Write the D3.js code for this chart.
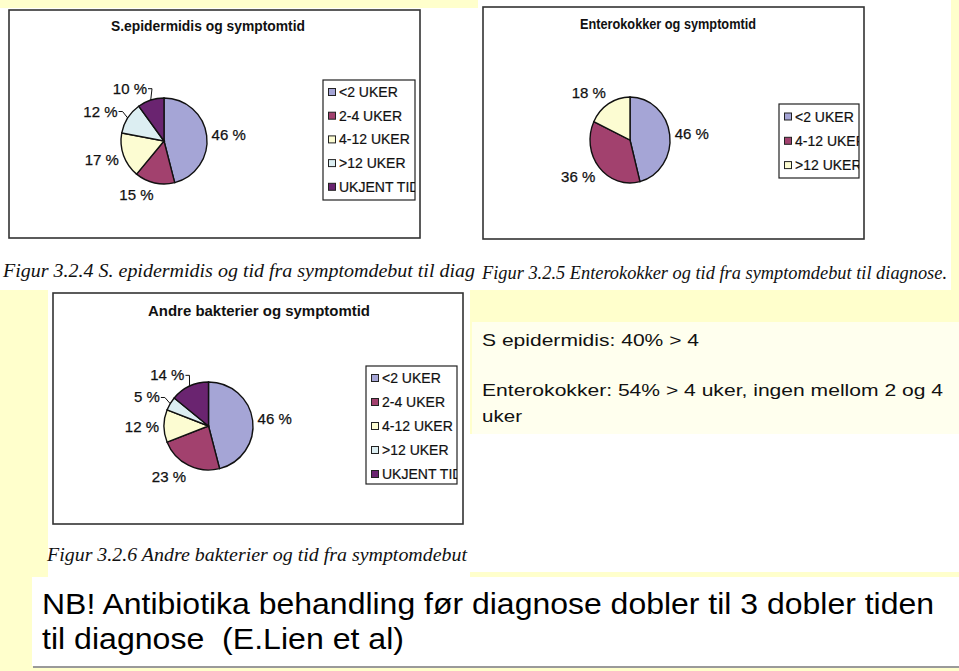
<!DOCTYPE html>
<html><head><meta charset="utf-8">
<script src="https://cdn.jsdelivr.net/npm/d3@7"></script>
<style>
html,body{margin:0;padding:0;background:#FFFFCC;}
svg{display:block;}
text{white-space:pre;}
</style></head>
<body>
<script>
// ---------- DATA ----------
const categories5 = ["<2 UKER", "2-4 UKER", "4-12 UKER", ">12 UKER", "UKJENT TID"];
const categories3 = ["<2 UKER", "4-12 UKER", ">12 UKER"];
const sepiValues   = [46, 15, 17, 12, 10];
const enteroValues = [46, 36, 18];
const andreValues  = [46, 23, 12, 5, 14];
const colors5 = ["#A5A5D6", "#A2416E", "#FCFCD2", "#DCEEF2", "#6A2470"];
const colors3 = ["#A5A5D6", "#A2416E", "#FCFCD2"];
const chartTitles = ["S.epidermidis og symptomtid", "Enterokokker og symptomtid", "Andre bakterier og symptomtid"];
const captions = [
  "Figur 3.2.4 S. epidermidis og tid fra symptomdebut til diag",
  "Figur 3.2.5 Enterokokker og tid fra symptomdebut til diagnose.",
  "Figur 3.2.6 Andre bakterier og tid fra symptomdebut"
];
const noteLines = ["S epidermidis: 40% > 4", "Enterokokker: 54% > 4 uker, ingen mellom 2 og 4", "uker"];
const bottomLines = ["NB! Antibiotika behandling før diagnose dobler til 3 dobler tiden", "til diagnose  (E.Lien et al)"];

// ---------- LAYOUT ----------
const W = 959, H = 671;
const SANS = "'Liberation Sans', Arial, sans-serif";
const SERIF = "'Liberation Serif', 'Times New Roman', serif";
const svg = d3.select("body").append("svg").attr("width", W).attr("height", H);
const defs = svg.append("defs");
svg.append("rect").attr("width", W).attr("height", H).attr("fill", "#FFFFCC");

const charts = [
  { panel:[0,8,478,282], box:[9,10,411,228], title:chartTitles[0], titleX:208, titleY:31, titleW:194,
    cx:164, cy:141, rx:43, ry:43, values:sepiValues, cats:categories5, colors:colors5,
    legend:[323,80,92,120], legendY0:92, legendStep:23.7,
    caption:captions[0], capX:3, capY:277, capW:472 },
  { panel:[478,0,473,290], box:[483,7,381,232], title:chartTitles[1], titleX:668, titleY:29, titleW:176,
    cx:630, cy:140, rx:40, ry:43, values:enteroValues, cats:categories3, colors:colors3,
    legend:[779,104,80,74], legendY0:116.5, legendStep:24.3,
    caption:captions[1], capX:482, capY:279, capW:465 },
  { panel:[48,290,422,287], box:[53,293,410,231], title:chartTitles[2], titleX:259, titleY:316, titleW:222,
    cx:208.5, cy:426, rx:44.5, ry:44, values:andreValues, cats:categories5, colors:colors5,
    legend:[366,366,91,118], legendY0:378, legendStep:24,
    caption:captions[2], capX:47, capY:561, capW:420 }
];

function drawPanel(c, i) {
  const g = svg.append("g");
  g.append("rect").attr("x", c.panel[0]).attr("y", c.panel[1]).attr("width", c.panel[2]).attr("height", c.panel[3]).attr("fill", "#FFFFFF");
  g.append("rect").attr("x", c.box[0]).attr("y", c.box[1]).attr("width", c.box[2]).attr("height", c.box[3])
    .attr("fill", "#FFFFFF").attr("stroke", "#333").attr("stroke-width", 1.6);
  g.append("text").attr("x", c.titleX).attr("y", c.titleY).attr("text-anchor", "middle")
    .attr("font-family", SANS).attr("font-weight", "bold").attr("font-size", 15.5)
    .attr("textLength", c.titleW).attr("lengthAdjust", "spacingAndGlyphs").attr("fill", "#111").text(c.title);

  // pie
  const total = d3.sum(c.values);
  const pie = d3.pie().sort(null).value(d => d)(c.values);
  const arc = d3.arc().innerRadius(0).outerRadius(c.ry);
  const pg = g.append("g").attr("transform", `translate(${c.cx},${c.cy}) scale(${c.rx / c.ry},1)`);
  pg.selectAll("path").data(pie).join("path").attr("d", arc)
    .attr("fill", (d, j) => c.colors[j]).attr("stroke", "#111").attr("stroke-width", 1.4)
    .attr("vector-effect", "non-scaling-stroke");

  // labels
  pie.forEach((d, j) => {
    const a = (d.startAngle + d.endAngle) / 2;
    const s = Math.sin(a), co = Math.cos(a);
    const frac = c.values[j] / total;
    const deg = a * 180 / Math.PI;
    const t = g.append("text").attr("font-family", SANS).attr("font-size", 15).attr("fill", "#111")
      .attr("stroke", "#111").attr("stroke-width", 0.25).text(c.values[j] + " %");
    if (frac <= 0.14 && deg > 280) {
      const R = 12;
      const ax = c.cx + (c.rx + R) * s, ay = c.cy - (c.ry + R) * co;
      t.attr("x", ax).attr("y", ay + 5).attr("text-anchor", "end");
      const ex = c.cx + c.rx * s, ey = c.cy - c.ry * co;
      g.append("polyline").attr("points", `${ax + 1},${ay} ${ax + 5},${ay} ${ex},${ey}`)
        .attr("fill", "none").attr("stroke", "#111").attr("stroke-width", 1);
    } else {
      const pad = 5, h = 14;
      const px = c.cx + (c.rx + pad) * s, py = c.cy - (c.ry + pad) * co;
      const m = Math.max(Math.abs(s), Math.abs(co));
      const sy = -co / m;
      const my = py + (h / 2) * sy;
      t.attr("x", px).attr("y", my + 5.5).attr("text-anchor", s < 0 ? "end" : "start");
    }
  });

  // legend
  const [lx, ly, lw, lh] = c.legend;
  const clipId = "lc" + i;
  defs.append("clipPath").attr("id", clipId).append("rect").attr("x", lx).attr("y", ly).attr("width", lw).attr("height", lh);
  g.append("rect").attr("x", lx).attr("y", ly).attr("width", lw).attr("height", lh)
    .attr("fill", "#FFFFFF").attr("stroke", "#222").attr("stroke-width", 1.2);
  const lg = g.append("g").attr("clip-path", `url(#${clipId})`);
  const yScale = d3.scaleLinear().domain([0, 1]).range([c.legendY0, c.legendY0 + c.legendStep]);
  c.cats.forEach((name, j) => {
    const yy = yScale(j);
    lg.append("rect").attr("x", lx + 5.5).attr("y", yy - 3.5).attr("width", 7).attr("height", 7)
      .attr("fill", c.colors[j]).attr("stroke", "#222").attr("stroke-width", 1);
    lg.append("text").attr("x", lx + 16).attr("y", yy + 5).attr("font-family", SANS).attr("font-size", 14)
      .attr("fill", "#111").attr("stroke", "#111").attr("stroke-width", 0.2).text(name);
  });

  // caption
  g.append("text").attr("x", c.capX).attr("y", c.capY)
    .attr("font-family", SERIF).attr("font-style", "italic")
    .attr("font-size", 18.5).attr("fill", "#111").text(c.caption)
    .attr("textLength", c.capW).attr("lengthAdjust", "spacingAndGlyphs");
}
charts.forEach(drawPanel);

// area right of chart 3
svg.append("rect").attr("x", 470).attr("y", 434).attr("width", W - 470).attr("height", 138).attr("fill", "#FFFFFF");
// note text box
svg.append("rect").attr("x", 472).attr("y", 322).attr("width", W - 472).attr("height", 112).attr("fill", "#FFFFEE");
const noteY = [346, 396, 422];
const noteW = [217, 461, 40];
noteLines.forEach((line, i) => {
  svg.append("text").attr("x", 482).attr("y", noteY[i])
    .attr("font-family", SANS).attr("font-size", 16.5).attr("fill", "#111")
    .attr("textLength", noteW[i]).attr("lengthAdjust", "spacingAndGlyphs").text(line);
});

// bottom box
svg.append("rect").attr("x", 33).attr("y", 666).attr("width", W - 33).attr("height", 2).attr("fill", "#9a9a9a");
svg.append("rect").attr("x", 32).attr("y", 577).attr("width", W - 32).attr("height", 89).attr("fill", "#FFFFFF");
const botY = [614, 649];
const botW = [892, 362];
bottomLines.forEach((line, i) => {
  svg.append("text").attr("x", 42).attr("y", botY[i])
    .attr("font-family", SANS).attr("font-size", 30).attr("fill", "#000")
    .attr("textLength", botW[i]).attr("lengthAdjust", "spacingAndGlyphs").text(line);
});
</script>
</body></html>
